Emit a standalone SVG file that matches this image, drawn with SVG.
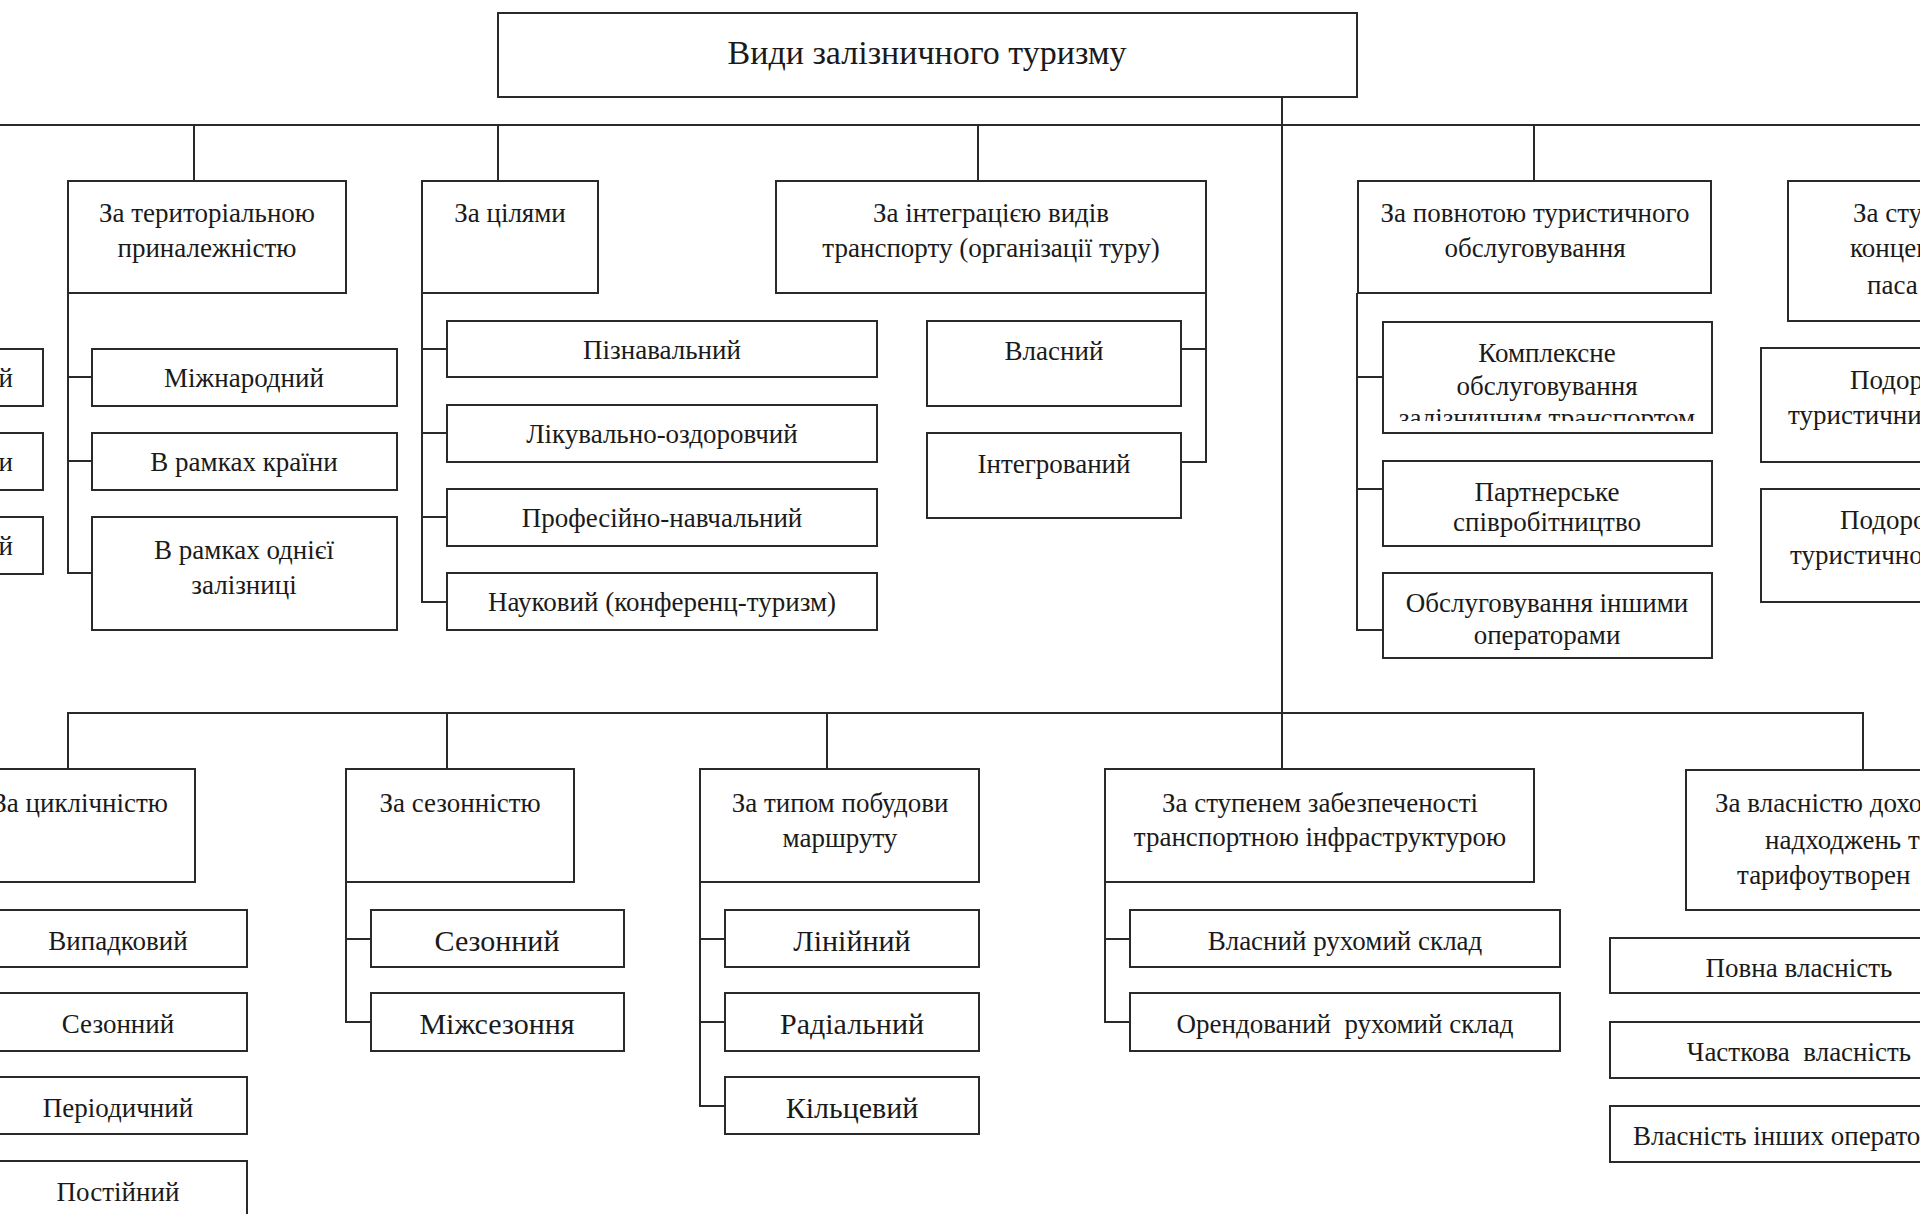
<svg xmlns="http://www.w3.org/2000/svg" width="1920" height="1214" viewBox="0 0 1920 1214">
<style>
.b{fill:#fff;stroke:#2a2a2a;stroke-width:2}
.l{fill:none;stroke:#2a2a2a;stroke-width:2}
text{font-family:"Liberation Serif","Times New Roman",serif;font-size:27px;fill:#1a1a1a;text-anchor:middle;dominant-baseline:central}
.s{text-anchor:start}
.e{text-anchor:end}
.big{font-size:30px}
.t{font-size:34px}
</style>
<defs>
<clipPath id="clipK"><rect x="1383" y="322" width="329" height="99"/></clipPath>
</defs>
<rect width="1920" height="1214" fill="#fff"/>
<g id="connectors">
<path class="l" d="M0,125H1920M194,125V181M498,125V181M978,125V181M1534,125V181M1282,97V769"/>
<path class="l" d="M68,293V573H92M68,377H92M68,461H92"/>
<path class="l" d="M422,293V602H447M422,349H447M422,433H447M422,517H447"/>
<path class="l" d="M1206,293V462H1181M1206,349H1181"/>
<path class="l" d="M1357,293V630H1383M1357,377H1383M1357,489H1383"/>
<path class="l" d="M68,769V713H1863V770M447,713V769M827,713V769"/>
<path class="l" d="M346,882V1022H371M346,939H371"/>
<path class="l" d="M700,882V1106H725M700,939H725M700,1022H725"/>
<path class="l" d="M1105,882V1022H1130M1105,939H1130"/>
</g>
<g id="root"><rect class="b" x="498" y="13" width="859" height="84"/><text class="t" x="927" y="52">Види залізничного туризму</text></g>
<g id="left-partial">
<rect class="b" x="-10" y="349" width="53" height="57"/><text class="e" x="13" y="378">й</text>
<rect class="b" x="-10" y="433" width="53" height="57"/><text class="e" x="13" y="462">и</text>
<rect class="b" x="-10" y="517" width="53" height="57"/><text class="e" x="13" y="546">й</text>
</g>
<g id="cat-territory"><rect class="b" x="68" y="181" width="278" height="112"/><text x="207" y="213">За територіальною</text><text x="207" y="248">приналежністю</text></g>
<g id="t-intl"><rect class="b" x="92" y="349" width="305" height="57"/><text x="244" y="378">Міжнародний</text></g>
<g id="t-country"><rect class="b" x="92" y="433" width="305" height="57"/><text x="244" y="462">В рамках країни</text></g>
<g id="t-rail"><rect class="b" x="92" y="517" width="305" height="113"/><text x="244" y="550">В рамках однієї</text><text x="244" y="585">залізниці</text></g>
<g id="cat-goals"><rect class="b" x="422" y="181" width="176" height="112"/><text x="510" y="213">За цілями</text></g>
<g id="g1"><rect class="b" x="447" y="321" width="430" height="56"/><text x="662" y="350">Пізнавальний</text></g>
<g id="g2"><rect class="b" x="447" y="405" width="430" height="57"/><text x="662" y="434">Лікувально-оздоровчий</text></g>
<g id="g3"><rect class="b" x="447" y="489" width="430" height="57"/><text x="662" y="518">Професійно-навчальний</text></g>
<g id="g4"><rect class="b" x="447" y="573" width="430" height="57"/><text x="662" y="602">Науковий (конференц-туризм)</text></g>
<g id="cat-integration"><rect class="b" x="776" y="181" width="430" height="112"/><text x="991" y="213">За інтеграцією видів</text><text x="991" y="248">транспорту (організації туру)</text></g>
<g id="i1"><rect class="b" x="927" y="321" width="254" height="85"/><text x="1054" y="351">Власний</text></g>
<g id="i2"><rect class="b" x="927" y="433" width="254" height="85"/><text x="1054" y="464">Інтегрований</text></g>
<g id="cat-service"><rect class="b" x="1358" y="181" width="353" height="112"/><text x="1535" y="213">За повнотою туристичного</text><text x="1535" y="248">обслуговування</text></g>
<g id="s1"><rect class="b" x="1383" y="322" width="329" height="111"/><text x="1547" y="353">Комплексне</text><text x="1547" y="386">обслуговування</text><text x="1547" y="418" clip-path="url(#clipK)">залізничним транспортом</text></g>
<g id="s2"><rect class="b" x="1383" y="461" width="329" height="85"/><text x="1547" y="492">Партнерське</text><text x="1547" y="522">співробітництво</text></g>
<g id="s3"><rect class="b" x="1383" y="573" width="329" height="85"/><text x="1547" y="603">Обслуговування іншими</text><text x="1547" y="635">операторами</text></g>
<g id="cat-concentration"><rect class="b" x="1788" y="181" width="200" height="140"/><text class="s" x="1853" y="213">За сту</text><text class="s" x="1850" y="248">концен</text><text class="s" x="1867" y="285">паса</text></g>
<g id="c1"><rect class="b" x="1761" y="348" width="220" height="114"/><text class="s" x="1850" y="380">Подор</text><text class="s" x="1788" y="415">туристичним</text></g>
<g id="c2"><rect class="b" x="1761" y="489" width="220" height="113"/><text class="s" x="1840" y="520">Подоро</text><text class="s" x="1790" y="555">туристично м</text></g>
<g id="cat-cyclic"><rect class="b" x="-28" y="769" width="223" height="113"/><text class="e" x="168" y="803">За циклічністю</text></g>
<g id="y1"><rect class="b" x="-10" y="910" width="257" height="57"/><text x="118" y="941">Випадковий</text></g>
<g id="y2"><rect class="b" x="-10" y="993" width="257" height="58"/><text x="118" y="1024">Сезонний</text></g>
<g id="y3"><rect class="b" x="-10" y="1077" width="257" height="57"/><text x="118" y="1108">Періодичний</text></g>
<g id="y4"><rect class="b" x="-10" y="1161" width="257" height="60"/><text x="118" y="1192">Постійний</text></g>
<g id="cat-season"><rect class="b" x="346" y="769" width="228" height="113"/><text x="460" y="803">За сезонністю</text></g>
<g id="se1"><rect class="b" x="371" y="910" width="253" height="57"/><text class="big" x="497" y="940">Сезонний</text></g>
<g id="se2"><rect class="b" x="371" y="993" width="253" height="58"/><text class="big" x="497" y="1023">Міжсезоння</text></g>
<g id="cat-route"><rect class="b" x="700" y="769" width="279" height="113"/><text x="840" y="803">За типом побудови</text><text x="840" y="838">маршруту</text></g>
<g id="r1"><rect class="b" x="725" y="910" width="254" height="57"/><text class="big" x="852" y="940">Лінійний</text></g>
<g id="r2"><rect class="b" x="725" y="993" width="254" height="58"/><text class="big" x="852" y="1023">Радіальний</text></g>
<g id="r3"><rect class="b" x="725" y="1077" width="254" height="57"/><text class="big" x="852" y="1107">Кільцевий</text></g>
<g id="cat-infra"><rect class="b" x="1105" y="769" width="429" height="113"/><text x="1320" y="803">За ступенем забезпеченості</text><text x="1320" y="837">транспортною інфраструктурою</text></g>
<g id="f1"><rect class="b" x="1130" y="910" width="430" height="57"/><text x="1345" y="941">Власний рухомий склад</text></g>
<g id="f2"><rect class="b" x="1130" y="993" width="430" height="58"/><text x="1345" y="1024" xml:space="preserve">Орендований  рухомий склад</text></g>
<g id="cat-ownership"><rect class="b" x="1686" y="770" width="300" height="140"/><text class="s" x="1715" y="803">За власністю дохо</text><text class="s" x="1765" y="840">надходжень т</text><text class="s" x="1737" y="875">тарифоутворен</text></g>
<g id="o1"><rect class="b" x="1610" y="938" width="380" height="55"/><text x="1799" y="968">Повна власність</text></g>
<g id="o2"><rect class="b" x="1610" y="1022" width="380" height="56"/><text x="1799" y="1052" xml:space="preserve">Часткова  власність</text></g>
<g id="o3"><rect class="b" x="1610" y="1106" width="380" height="56"/><text class="s" x="1633" y="1136">Власність інших операто</text></g>
</svg>
